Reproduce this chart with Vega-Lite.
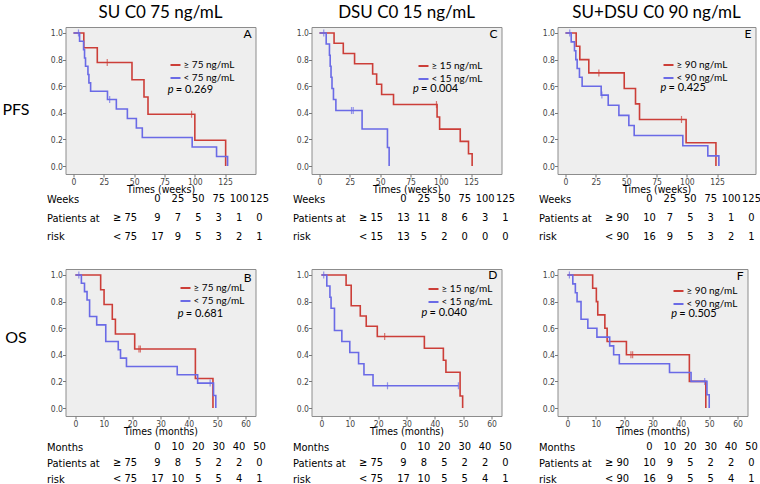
{
"$schema":"https://vega.github.io/schema/vega-lite/v6.json",
"background":"white",
"padding":{"left":0.5,"top":3,"right":0,"bottom":2},
"autosize":{"type":"pad"},
"bounds":"flush",
"align":"each",
"columns":3,
"spacing":{"row":10,"column":52},
"resolve":{"legend":{"color":"independent"}},
"config":{
 "view":{"fill":"#eeeeee","stroke":"#8c8c8c"},
 "title":{"font":"Lato","fontSize":17,"fontWeight":"normal","color":"#000","offset":5.5},
 "axis":{"tickSize":3,"tickCount":20,"tickColor":"#777","domain":false,"grid":false,"labelOverlap":false,"labelFont":"'Liberation Sans Narrow', 'DejaVu Sans Condensed', sans-serif","labelFontSize":8.5,"labelColor":"#444","labelPadding":0,"titleFont":"'Liberation Sans Narrow', 'DejaVu Sans Condensed', sans-serif","titleFontSize":10.5,"titleFontWeight":"normal","titleColor":"#000","titlePadding":-1.5},
 "legend":{"orient":"none","symbolType":"stroke","symbolSize":100,"symbolStrokeWidth":2,"labelFont":"Lato","labelFontSize":10,"labelOffset":2,"rowPadding":2,"padding":0,"labelColor":"#000"}
},
"datasets":{
 "km":[
  {"p":"A","g":"hi","t":0,"s":1},{"p":"A","g":"hi","t":8.5,"s":0.889},{"p":"A","g":"hi","t":19.6,"s":0.778},{"p":"A","g":"hi","t":48.2,"s":0.648},{"p":"A","g":"hi","t":58.1,"s":0.519},{"p":"A","g":"hi","t":61.4,"s":0.389},{"p":"A","g":"hi","t":100,"s":0.194},{"p":"A","g":"hi","t":125.4,"s":0},
  {"p":"A","g":"lo","t":0,"s":1},{"p":"A","g":"lo","t":5,"s":0.9375},{"p":"A","g":"lo","t":8.3,"s":0.875},{"p":"A","g":"lo","t":9.1,"s":0.8125},{"p":"A","g":"lo","t":9.9,"s":0.75},{"p":"A","g":"lo","t":11.9,"s":0.6875},{"p":"A","g":"lo","t":12.7,"s":0.625},{"p":"A","g":"lo","t":14.1,"s":0.5625},{"p":"A","g":"lo","t":28,"s":0.5},{"p":"A","g":"lo","t":35.3,"s":0.4286},{"p":"A","g":"lo","t":44.4,"s":0.3571},{"p":"A","g":"lo","t":51.8,"s":0.2857},{"p":"A","g":"lo","t":56.7,"s":0.2143},{"p":"A","g":"lo","t":97.8,"s":0.1429},{"p":"A","g":"lo","t":117.9,"s":0.0714},{"p":"A","g":"lo","t":127,"s":0},
  {"p":"C","g":"hi","t":0,"s":1},{"p":"C","g":"hi","t":12,"s":0.923},{"p":"C","g":"hi","t":19.6,"s":0.846},{"p":"C","g":"hi","t":28.9,"s":0.769},{"p":"C","g":"hi","t":43.8,"s":0.692},{"p":"C","g":"hi","t":47.1,"s":0.615},{"p":"C","g":"hi","t":51.2,"s":0.538},{"p":"C","g":"hi","t":61,"s":0.462},{"p":"C","g":"hi","t":96.9,"s":0.369},{"p":"C","g":"hi","t":99,"s":0.277},{"p":"C","g":"hi","t":116,"s":0.185},{"p":"C","g":"hi","t":122.8,"s":0.092},{"p":"C","g":"hi","t":125.8,"s":0},
  {"p":"C","g":"lo","t":0,"s":1},{"p":"C","g":"lo","t":5.5,"s":0.917},{"p":"C","g":"lo","t":8.2,"s":0.833},{"p":"C","g":"lo","t":8.8,"s":0.75},{"p":"C","g":"lo","t":9.5,"s":0.667},{"p":"C","g":"lo","t":10.3,"s":0.583},{"p":"C","g":"lo","t":11.5,"s":0.5},{"p":"C","g":"lo","t":13.5,"s":0.417},{"p":"C","g":"lo","t":35.1,"s":0.278},{"p":"C","g":"lo","t":56,"s":0.139},{"p":"C","g":"lo","t":57.4,"s":0},
  {"p":"E","g":"hi","t":0,"s":1},{"p":"E","g":"hi","t":8.8,"s":0.9},{"p":"E","g":"hi","t":11.8,"s":0.8},{"p":"E","g":"hi","t":19.2,"s":0.7},{"p":"E","g":"hi","t":48.4,"s":0.583},{"p":"E","g":"hi","t":57.7,"s":0.467},{"p":"E","g":"hi","t":61,"s":0.35},{"p":"E","g":"hi","t":99.4,"s":0.175},{"p":"E","g":"hi","t":124,"s":0},
  {"p":"E","g":"lo","t":0,"s":1},{"p":"E","g":"lo","t":4.7,"s":0.933},{"p":"E","g":"lo","t":7.4,"s":0.867},{"p":"E","g":"lo","t":8.5,"s":0.8},{"p":"E","g":"lo","t":9.6,"s":0.733},{"p":"E","g":"lo","t":11.5,"s":0.667},{"p":"E","g":"lo","t":13.7,"s":0.6},{"p":"E","g":"lo","t":29.4,"s":0.533},{"p":"E","g":"lo","t":35.2,"s":0.457},{"p":"E","g":"lo","t":44,"s":0.381},{"p":"E","g":"lo","t":52.2,"s":0.305},{"p":"E","g":"lo","t":56.6,"s":0.229},{"p":"E","g":"lo","t":96.7,"s":0.152},{"p":"E","g":"lo","t":117.3,"s":0.076},{"p":"E","g":"lo","t":126.4,"s":0},
  {"p":"B","g":"hi","t":0,"s":1},{"p":"B","g":"hi","t":8.9,"s":0.889},{"p":"B","g":"hi","t":10.1,"s":0.778},{"p":"B","g":"hi","t":13,"s":0.667},{"p":"B","g":"hi","t":14.1,"s":0.556},{"p":"B","g":"hi","t":20.9,"s":0.444},{"p":"B","g":"hi","t":42.3,"s":0.222},{"p":"B","g":"hi","t":48.5,"s":0},
  {"p":"B","g":"lo","t":0,"s":1},{"p":"B","g":"lo","t":2.1,"s":0.9375},{"p":"B","g":"lo","t":3.2,"s":0.875},{"p":"B","g":"lo","t":4.1,"s":0.8125},{"p":"B","g":"lo","t":5,"s":0.6875},{"p":"B","g":"lo","t":7.5,"s":0.625},{"p":"B","g":"lo","t":10.7,"s":0.5},{"p":"B","g":"lo","t":15.1,"s":0.4375},{"p":"B","g":"lo","t":15.9,"s":0.375},{"p":"B","g":"lo","t":18,"s":0.3125},{"p":"B","g":"lo","t":35.9,"s":0.25},{"p":"B","g":"lo","t":43.1,"s":0.1875},{"p":"B","g":"lo","t":48.7,"s":0.0938},{"p":"B","g":"lo","t":49.5,"s":0},
  {"p":"D","g":"hi","t":0,"s":1},{"p":"D","g":"hi","t":8.7,"s":0.923},{"p":"D","g":"hi","t":10.5,"s":0.769},{"p":"D","g":"hi","t":13.7,"s":0.692},{"p":"D","g":"hi","t":15.8,"s":0.615},{"p":"D","g":"hi","t":19.7,"s":0.538},{"p":"D","g":"hi","t":36.3,"s":0.449},{"p":"D","g":"hi","t":43,"s":0.359},{"p":"D","g":"hi","t":43.9,"s":0.269},{"p":"D","g":"hi","t":48.9,"s":0.09},{"p":"D","g":"hi","t":49.8,"s":0},
  {"p":"D","g":"lo","t":0,"s":1},{"p":"D","g":"lo","t":1.9,"s":0.917},{"p":"D","g":"lo","t":3,"s":0.833},{"p":"D","g":"lo","t":3.4,"s":0.75},{"p":"D","g":"lo","t":4.6,"s":0.583},{"p":"D","g":"lo","t":7.2,"s":0.5},{"p":"D","g":"lo","t":10,"s":0.417},{"p":"D","g":"lo","t":13.1,"s":0.333},{"p":"D","g":"lo","t":15,"s":0.25},{"p":"D","g":"lo","t":18.2,"s":0.167},{"p":"D","g":"lo","t":48.3,"s":0.167},
  {"p":"F","g":"hi","t":0,"s":1},{"p":"F","g":"hi","t":8.9,"s":0.9},{"p":"F","g":"hi","t":10.2,"s":0.8},{"p":"F","g":"hi","t":10.7,"s":0.7},{"p":"F","g":"hi","t":13.2,"s":0.6},{"p":"F","g":"hi","t":14,"s":0.5},{"p":"F","g":"hi","t":20.8,"s":0.4},{"p":"F","g":"hi","t":43,"s":0.2},{"p":"F","g":"hi","t":48.8,"s":0},
  {"p":"F","g":"lo","t":0,"s":1},{"p":"F","g":"lo","t":1.9,"s":0.933},{"p":"F","g":"lo","t":2.8,"s":0.867},{"p":"F","g":"lo","t":3.4,"s":0.8},{"p":"F","g":"lo","t":4.8,"s":0.667},{"p":"F","g":"lo","t":7.2,"s":0.6},{"p":"F","g":"lo","t":10.4,"s":0.533},{"p":"F","g":"lo","t":14.9,"s":0.467},{"p":"F","g":"lo","t":16.3,"s":0.4},{"p":"F","g":"lo","t":18.3,"s":0.333},{"p":"F","g":"lo","t":36,"s":0.267},{"p":"F","g":"lo","t":43.6,"s":0.2},{"p":"F","g":"lo","t":49.2,"s":0.1},{"p":"F","g":"lo","t":50,"s":0}
 ],
 "cens":[
  {"p":"A","g":"hi","t":27.8,"s":0.778},{"p":"A","g":"hi","t":97.3,"s":0.389},{"p":"A","g":"lo","t":4.1,"s":1},{"p":"A","g":"lo","t":29.8,"s":0.5},
  {"p":"C","g":"hi","t":96.4,"s":0.462},{"p":"C","g":"lo","t":3.5,"s":1},{"p":"C","g":"lo","t":26.4,"s":0.417},{"p":"C","g":"lo","t":27.8,"s":0.417},
  {"p":"E","g":"hi","t":27.5,"s":0.7},{"p":"E","g":"hi","t":95.6,"s":0.35},{"p":"E","g":"lo","t":3.5,"s":1},{"p":"E","g":"lo","t":30,"s":0.533},
  {"p":"B","g":"hi","t":22.4,"s":0.444},{"p":"B","g":"hi","t":22.9,"s":0.444},{"p":"B","g":"lo","t":1.2,"s":1},{"p":"B","g":"lo","t":47.5,"s":0.1875},
  {"p":"D","g":"hi","t":22.3,"s":0.538},{"p":"D","g":"lo","t":0.8,"s":1},{"p":"D","g":"lo","t":23.3,"s":0.167},{"p":"D","g":"lo","t":48.3,"s":0.167},
  {"p":"F","g":"hi","t":22.4,"s":0.4},{"p":"F","g":"hi","t":23,"s":0.4},{"p":"F","g":"lo","t":0.7,"s":1},{"p":"F","g":"lo","t":48.4,"s":0.2}
 ],
 "info":[
  {"p":"A","pv":"= 0.269","L":"A"},{"p":"C","pv":"= 0.004","L":"C"},{"p":"E","pv":"= 0.425","L":"E"},
  {"p":"B","pv":"= 0.681","L":"B"},{"p":"D","pv":"= 0.040","L":"D"},{"p":"F","pv":"= 0.505","L":"F"}
 ],
 "risk":[
  {"p":"A","r":"Weeks","c":"0","v":"0"},{"p":"A","r":"Weeks","c":"1","v":"25"},{"p":"A","r":"Weeks","c":"2","v":"50"},{"p":"A","r":"Weeks","c":"3","v":"75"},{"p":"A","r":"Weeks","c":"4","v":"100"},{"p":"A","r":"Weeks","c":"5","v":"125"},
  {"p":"A","r":"Patients at","c":"g","v":"≥ 75"},{"p":"A","r":"Patients at","c":"0","v":"9"},{"p":"A","r":"Patients at","c":"1","v":"7"},{"p":"A","r":"Patients at","c":"2","v":"5"},{"p":"A","r":"Patients at","c":"3","v":"3"},{"p":"A","r":"Patients at","c":"4","v":"1"},{"p":"A","r":"Patients at","c":"5","v":"0"},
  {"p":"A","r":"risk","c":"g","v":"< 75"},{"p":"A","r":"risk","c":"0","v":"17"},{"p":"A","r":"risk","c":"1","v":"9"},{"p":"A","r":"risk","c":"2","v":"5"},{"p":"A","r":"risk","c":"3","v":"3"},{"p":"A","r":"risk","c":"4","v":"2"},{"p":"A","r":"risk","c":"5","v":"1"},
  {"p":"C","r":"Weeks","c":"0","v":"0"},{"p":"C","r":"Weeks","c":"1","v":"25"},{"p":"C","r":"Weeks","c":"2","v":"50"},{"p":"C","r":"Weeks","c":"3","v":"75"},{"p":"C","r":"Weeks","c":"4","v":"100"},{"p":"C","r":"Weeks","c":"5","v":"125"},
  {"p":"C","r":"Patients at","c":"g","v":"≥ 15"},{"p":"C","r":"Patients at","c":"0","v":"13"},{"p":"C","r":"Patients at","c":"1","v":"11"},{"p":"C","r":"Patients at","c":"2","v":"8"},{"p":"C","r":"Patients at","c":"3","v":"6"},{"p":"C","r":"Patients at","c":"4","v":"3"},{"p":"C","r":"Patients at","c":"5","v":"1"},
  {"p":"C","r":"risk","c":"g","v":"< 15"},{"p":"C","r":"risk","c":"0","v":"13"},{"p":"C","r":"risk","c":"1","v":"5"},{"p":"C","r":"risk","c":"2","v":"2"},{"p":"C","r":"risk","c":"3","v":"0"},{"p":"C","r":"risk","c":"4","v":"0"},{"p":"C","r":"risk","c":"5","v":"0"},
  {"p":"E","r":"Weeks","c":"0","v":"0"},{"p":"E","r":"Weeks","c":"1","v":"25"},{"p":"E","r":"Weeks","c":"2","v":"50"},{"p":"E","r":"Weeks","c":"3","v":"75"},{"p":"E","r":"Weeks","c":"4","v":"100"},{"p":"E","r":"Weeks","c":"5","v":"125"},
  {"p":"E","r":"Patients at","c":"g","v":"≥ 90"},{"p":"E","r":"Patients at","c":"0","v":"10"},{"p":"E","r":"Patients at","c":"1","v":"7"},{"p":"E","r":"Patients at","c":"2","v":"5"},{"p":"E","r":"Patients at","c":"3","v":"3"},{"p":"E","r":"Patients at","c":"4","v":"1"},{"p":"E","r":"Patients at","c":"5","v":"0"},
  {"p":"E","r":"risk","c":"g","v":"< 90"},{"p":"E","r":"risk","c":"0","v":"16"},{"p":"E","r":"risk","c":"1","v":"9"},{"p":"E","r":"risk","c":"2","v":"5"},{"p":"E","r":"risk","c":"3","v":"3"},{"p":"E","r":"risk","c":"4","v":"2"},{"p":"E","r":"risk","c":"5","v":"1"},
  {"p":"B","r":"Months","c":"0","v":"0"},{"p":"B","r":"Months","c":"1","v":"10"},{"p":"B","r":"Months","c":"2","v":"20"},{"p":"B","r":"Months","c":"3","v":"30"},{"p":"B","r":"Months","c":"4","v":"40"},{"p":"B","r":"Months","c":"5","v":"50"},
  {"p":"B","r":"Patients at","c":"g","v":"≥ 75"},{"p":"B","r":"Patients at","c":"0","v":"9"},{"p":"B","r":"Patients at","c":"1","v":"8"},{"p":"B","r":"Patients at","c":"2","v":"5"},{"p":"B","r":"Patients at","c":"3","v":"2"},{"p":"B","r":"Patients at","c":"4","v":"2"},{"p":"B","r":"Patients at","c":"5","v":"0"},
  {"p":"B","r":"risk","c":"g","v":"< 75"},{"p":"B","r":"risk","c":"0","v":"17"},{"p":"B","r":"risk","c":"1","v":"10"},{"p":"B","r":"risk","c":"2","v":"5"},{"p":"B","r":"risk","c":"3","v":"5"},{"p":"B","r":"risk","c":"4","v":"4"},{"p":"B","r":"risk","c":"5","v":"1"},
  {"p":"D","r":"Months","c":"0","v":"0"},{"p":"D","r":"Months","c":"1","v":"10"},{"p":"D","r":"Months","c":"2","v":"20"},{"p":"D","r":"Months","c":"3","v":"30"},{"p":"D","r":"Months","c":"4","v":"40"},{"p":"D","r":"Months","c":"5","v":"50"},
  {"p":"D","r":"Patients at","c":"g","v":"≥ 75"},{"p":"D","r":"Patients at","c":"0","v":"9"},{"p":"D","r":"Patients at","c":"1","v":"8"},{"p":"D","r":"Patients at","c":"2","v":"5"},{"p":"D","r":"Patients at","c":"3","v":"2"},{"p":"D","r":"Patients at","c":"4","v":"2"},{"p":"D","r":"Patients at","c":"5","v":"0"},
  {"p":"D","r":"risk","c":"g","v":"< 75"},{"p":"D","r":"risk","c":"0","v":"17"},{"p":"D","r":"risk","c":"1","v":"10"},{"p":"D","r":"risk","c":"2","v":"5"},{"p":"D","r":"risk","c":"3","v":"5"},{"p":"D","r":"risk","c":"4","v":"4"},{"p":"D","r":"risk","c":"5","v":"1"},
  {"p":"F","r":"Months","c":"0","v":"0"},{"p":"F","r":"Months","c":"1","v":"10"},{"p":"F","r":"Months","c":"2","v":"20"},{"p":"F","r":"Months","c":"3","v":"30"},{"p":"F","r":"Months","c":"4","v":"40"},{"p":"F","r":"Months","c":"5","v":"50"},
  {"p":"F","r":"Patients at","c":"g","v":"≥ 90"},{"p":"F","r":"Patients at","c":"0","v":"10"},{"p":"F","r":"Patients at","c":"1","v":"9"},{"p":"F","r":"Patients at","c":"2","v":"5"},{"p":"F","r":"Patients at","c":"3","v":"2"},{"p":"F","r":"Patients at","c":"4","v":"2"},{"p":"F","r":"Patients at","c":"5","v":"0"},
  {"p":"F","r":"risk","c":"g","v":"< 90"},{"p":"F","r":"risk","c":"0","v":"16"},{"p":"F","r":"risk","c":"1","v":"9"},{"p":"F","r":"risk","c":"2","v":"5"},{"p":"F","r":"risk","c":"3","v":"5"},{"p":"F","r":"risk","c":"4","v":"4"},{"p":"F","r":"risk","c":"5","v":"1"}
 ]
},
"concat":[
   {"width":190,"height":147,"title":{"text":"SU C0 75 ng/mL"},"layer":[
    {"data":{"name":"km"},"transform":[{"filter":"datum.p=='A'"}],"mark":{"type":"line","interpolate":"step-after","strokeWidth":1.6},
     "encoding":{"x":{"field":"t","type":"quantitative","scale":{"domain":[-6.6,150],"nice":false,"zero":false},"axis":{"values":[0,25,50,75,100,125],"tickCount":20,"labelOverlap":false,"title":"Times (weeks)"}},
      "y":{"field":"s","type":"quantitative","scale":{"domain":[-0.06,1.045],"nice":false,"zero":false},"axis":{"values":[0,0.2,0.4,0.6,0.8,1],"tickCount":20,"labelOverlap":false,"format":".1f","title":"PFS","titleAngle":0,"titleX":-50,"titleY":82,"titleAlign":"center","titleBaseline":"middle","titleFont":"Lato","titleFontSize":16}},
      "color":{"field":"g","type":"nominal","scale":{"domain":["hi","lo"],"range":["#cc3e38","#6a6ae6"]},"legend":{"title":null,"legendX":104,"legendY":32,"labelExpr":"datum.value=='hi'?'≥ 75 ng/mL':'< 75 ng/mL'"}}}},
    {"data":{"name":"cens"},"transform":[{"filter":"datum.p=='A'"}],"mark":{"type":"tick","orient":"vertical","size":7,"thickness":1.2},
     "encoding":{"x":{"field":"t","type":"quantitative"},"y":{"field":"s","type":"quantitative"},"color":{"field":"g","type":"nominal","legend":null}}},
    {"data":{"name":"info"},"transform":[{"filter":"datum.p=='A'"}],"mark":{"type":"text","text":"p","font":"Lato","fontSize":11,"fontStyle":"italic","align":"left","baseline":"middle"},
     "encoding":{"x":{"datum":77.7},"y":{"datum":0.574}}},
    {"data":{"name":"info"},"transform":[{"filter":"datum.p=='A'"}],"mark":{"type":"text","font":"Lato","fontSize":11,"align":"left","baseline":"middle","dx":8},
     "encoding":{"x":{"datum":77.7},"y":{"datum":0.574},"text":{"field":"pv","type":"nominal"}}},
    {"data":{"name":"info"},"transform":[{"filter":"datum.p=='A'"}],"mark":{"type":"text","font":"Lato","fontSize":12,"align":"right","baseline":"middle","dx":-4},
     "encoding":{"x":{"datum":150},"y":{"datum":0.99},"text":{"field":"L","type":"nominal"}}}
   ]},
   {"width":190,"height":147,"title":{"text":"DSU C0 15 ng/mL"},"layer":[
    {"data":{"name":"km"},"transform":[{"filter":"datum.p=='C'"}],"mark":{"type":"line","interpolate":"step-after","strokeWidth":1.6},
     "encoding":{"x":{"field":"t","type":"quantitative","scale":{"domain":[-6.6,150],"nice":false,"zero":false},"axis":{"values":[0,25,50,75,100,125],"tickCount":20,"labelOverlap":false,"title":"Times (weeks)"}},
      "y":{"field":"s","type":"quantitative","scale":{"domain":[-0.06,1.045],"nice":false,"zero":false},"axis":{"values":[0,0.2,0.4,0.6,0.8,1],"tickCount":20,"labelOverlap":false,"format":".1f","title":null}},
      "color":{"field":"g","type":"nominal","scale":{"domain":["hi","lo"],"range":["#cc3e38","#6a6ae6"]},"legend":{"title":null,"legendX":106,"legendY":33,"labelExpr":"datum.value=='hi'?'≥ 15 ng/mL':'< 15 ng/mL'"}}}},
    {"data":{"name":"cens"},"transform":[{"filter":"datum.p=='C'"}],"mark":{"type":"tick","orient":"vertical","size":7,"thickness":1.2},
     "encoding":{"x":{"field":"t","type":"quantitative"},"y":{"field":"s","type":"quantitative"},"color":{"field":"g","type":"nominal","legend":null}}},
    {"data":{"name":"info"},"transform":[{"filter":"datum.p=='C'"}],"mark":{"type":"text","text":"p","font":"Lato","fontSize":11,"fontStyle":"italic","align":"left","baseline":"middle"},
     "encoding":{"x":{"datum":77},"y":{"datum":0.577}}},
    {"data":{"name":"info"},"transform":[{"filter":"datum.p=='C'"}],"mark":{"type":"text","font":"Lato","fontSize":11,"align":"left","baseline":"middle","dx":8},
     "encoding":{"x":{"datum":77},"y":{"datum":0.577},"text":{"field":"pv","type":"nominal"}}},
    {"data":{"name":"info"},"transform":[{"filter":"datum.p=='C'"}],"mark":{"type":"text","font":"Lato","fontSize":12,"align":"right","baseline":"middle","dx":-4},
     "encoding":{"x":{"datum":150},"y":{"datum":0.99},"text":{"field":"L","type":"nominal"}}}
   ]},
   {"width":198,"height":147,"title":{"text":"SU+DSU C0 90 ng/mL"},"layer":[
    {"data":{"name":"km"},"transform":[{"filter":"datum.p=='E'"}],"mark":{"type":"line","interpolate":"step-after","strokeWidth":1.6},
     "encoding":{"x":{"field":"t","type":"quantitative","scale":{"domain":[-6.6,156.6],"nice":false,"zero":false},"axis":{"values":[0,25,50,75,100,125],"tickCount":20,"labelOverlap":false,"title":"Times (weeks)"}},
      "y":{"field":"s","type":"quantitative","scale":{"domain":[-0.06,1.045],"nice":false,"zero":false},"axis":{"values":[0,0.2,0.4,0.6,0.8,1],"tickCount":20,"labelOverlap":false,"format":".1f","title":null}},
      "color":{"field":"g","type":"nominal","scale":{"domain":["hi","lo"],"range":["#cc3e38","#6a6ae6"]},"legend":{"title":null,"legendX":105,"legendY":32,"labelExpr":"datum.value=='hi'?'≥ 90 ng/mL':'< 90 ng/mL'"}}}},
    {"data":{"name":"cens"},"transform":[{"filter":"datum.p=='E'"}],"mark":{"type":"tick","orient":"vertical","size":7,"thickness":1.2},
     "encoding":{"x":{"field":"t","type":"quantitative"},"y":{"field":"s","type":"quantitative"},"color":{"field":"g","type":"nominal","legend":null}}},
    {"data":{"name":"info"},"transform":[{"filter":"datum.p=='E'"}],"mark":{"type":"text","text":"p","font":"Lato","fontSize":11,"fontStyle":"italic","align":"left","baseline":"middle"},
     "encoding":{"x":{"datum":78.3},"y":{"datum":0.586}}},
    {"data":{"name":"info"},"transform":[{"filter":"datum.p=='E'"}],"mark":{"type":"text","font":"Lato","fontSize":11,"align":"left","baseline":"middle","dx":8},
     "encoding":{"x":{"datum":78.3},"y":{"datum":0.586},"text":{"field":"pv","type":"nominal"}}},
    {"data":{"name":"info"},"transform":[{"filter":"datum.p=='E'"}],"mark":{"type":"text","font":"Lato","fontSize":12,"align":"right","baseline":"middle","dx":-4},
     "encoding":{"x":{"datum":156.6},"y":{"datum":0.99},"text":{"field":"L","type":"nominal"}}}
   ]},
   {"width":194,"height":74.5,"view":{"fill":null,"stroke":null},"data":{"name":"risk"},"transform":[{"filter":"datum.p=='A'"}],
    "encoding":{"x":{"field":"c","type":"nominal","scale":{"type":"point","domain":["x1","x2","g","0","1","2","3","4","5"],"padding":0.755,"align":1},"axis":null},
     "y":{"field":"r","type":"nominal","scale":{"type":"point","domain":["Weeks","Patients at","risk"],"padding":1,"align":0.413},"axis":{"title":null,"labelAlign":"left","labelPadding":19,"ticks":false,"tickSize":0,"labelFontSize":11,"labelColor":"#000","labelBaseline":"middle"}},
     "text":{"field":"v","type":"nominal"}},
    "layer":[
     {"transform":[{"filter":"datum.c!='g'"}],"mark":{"type":"text","font":"'Liberation Sans Narrow', 'DejaVu Sans Condensed', sans-serif","fontSize":11,"align":"center","baseline":"middle"}},
     {"transform":[{"filter":"datum.c=='g'"}],"mark":{"type":"text","font":"'Liberation Sans Narrow', 'DejaVu Sans Condensed', sans-serif","fontSize":11,"align":"center","baseline":"middle","dx":-12}}
    ]},
   {"width":194,"height":74.5,"view":{"fill":null,"stroke":null},"data":{"name":"risk"},"transform":[{"filter":"datum.p=='C'"}],
    "encoding":{"x":{"field":"c","type":"nominal","scale":{"type":"point","domain":["x1","x2","g","0","1","2","3","4","5"],"padding":0.755,"align":1},"axis":null},
     "y":{"field":"r","type":"nominal","scale":{"type":"point","domain":["Weeks","Patients at","risk"],"padding":1,"align":0.413},"axis":{"title":null,"labelAlign":"left","labelPadding":19,"ticks":false,"tickSize":0,"labelFontSize":11,"labelColor":"#000","labelBaseline":"middle"}},
     "text":{"field":"v","type":"nominal"}},
    "layer":[
     {"transform":[{"filter":"datum.c!='g'"}],"mark":{"type":"text","font":"'Liberation Sans Narrow', 'DejaVu Sans Condensed', sans-serif","fontSize":11,"align":"center","baseline":"middle"}},
     {"transform":[{"filter":"datum.c=='g'"}],"mark":{"type":"text","font":"'Liberation Sans Narrow', 'DejaVu Sans Condensed', sans-serif","fontSize":11,"align":"center","baseline":"middle","dx":-12}}
    ]},
   {"width":194,"height":74.5,"view":{"fill":null,"stroke":null},"data":{"name":"risk"},"transform":[{"filter":"datum.p=='E'"}],
    "encoding":{"x":{"field":"c","type":"nominal","scale":{"type":"point","domain":["x1","x2","g","0","1","2","3","4","5"],"padding":0.755,"align":1},"axis":null},
     "y":{"field":"r","type":"nominal","scale":{"type":"point","domain":["Weeks","Patients at","risk"],"padding":1,"align":0.413},"axis":{"title":null,"labelAlign":"left","labelPadding":19,"ticks":false,"tickSize":0,"labelFontSize":11,"labelColor":"#000","labelBaseline":"middle"}},
     "text":{"field":"v","type":"nominal"}},
    "layer":[
     {"transform":[{"filter":"datum.c!='g'"}],"mark":{"type":"text","font":"'Liberation Sans Narrow', 'DejaVu Sans Condensed', sans-serif","fontSize":11,"align":"center","baseline":"middle"}},
     {"transform":[{"filter":"datum.c=='g'"}],"mark":{"type":"text","font":"'Liberation Sans Narrow', 'DejaVu Sans Condensed', sans-serif","fontSize":11,"align":"center","baseline":"middle","dx":-12}}
    ]},
   {"width":190,"height":147,"layer":[
    {"data":{"name":"km"},"transform":[{"filter":"datum.p=='B'"}],"mark":{"type":"line","interpolate":"step-after","strokeWidth":1.6},
     "encoding":{"x":{"field":"t","type":"quantitative","scale":{"domain":[-3.5,63.5],"nice":false,"zero":false},"axis":{"values":[0,10,20,30,40,50,60],"tickCount":20,"labelOverlap":false,"title":"Times (months)"}},
      "y":{"field":"s","type":"quantitative","scale":{"domain":[-0.06,1.045],"nice":false,"zero":false},"axis":{"values":[0,0.2,0.4,0.6,0.8,1],"tickCount":20,"labelOverlap":false,"format":".1f","title":"OS","titleAngle":0,"titleX":-50,"titleY":68,"titleAlign":"center","titleBaseline":"middle","titleFont":"Lato","titleFontSize":16}},
      "color":{"field":"g","type":"nominal","scale":{"domain":["hi","lo"],"range":["#cc3e38","#6a6ae6"]},"legend":{"title":null,"legendX":114,"legendY":13,"labelExpr":"datum.value=='hi'?'≥ 75 ng/mL':'< 75 ng/mL'"}}}},
    {"data":{"name":"cens"},"transform":[{"filter":"datum.p=='B'"}],"mark":{"type":"tick","orient":"vertical","size":7,"thickness":1.2},
     "encoding":{"x":{"field":"t","type":"quantitative"},"y":{"field":"s","type":"quantitative"},"color":{"field":"g","type":"nominal","legend":null}}},
    {"data":{"name":"info"},"transform":[{"filter":"datum.p=='B'"}],"mark":{"type":"text","text":"p","font":"Lato","fontSize":11,"fontStyle":"italic","align":"left","baseline":"middle"},
     "encoding":{"x":{"datum":36.1},"y":{"datum":0.71}}},
    {"data":{"name":"info"},"transform":[{"filter":"datum.p=='B'"}],"mark":{"type":"text","font":"Lato","fontSize":11,"align":"left","baseline":"middle","dx":8},
     "encoding":{"x":{"datum":36.1},"y":{"datum":0.71},"text":{"field":"pv","type":"nominal"}}},
    {"data":{"name":"info"},"transform":[{"filter":"datum.p=='B'"}],"mark":{"type":"text","font":"Lato","fontSize":12,"align":"right","baseline":"middle","dx":-4},
     "encoding":{"x":{"datum":63.5},"y":{"datum":0.98},"text":{"field":"L","type":"nominal"}}}
   ]},
   {"width":190,"height":147,"layer":[
    {"data":{"name":"km"},"transform":[{"filter":"datum.p=='D'"}],"mark":{"type":"line","interpolate":"step-after","strokeWidth":1.6},
     "encoding":{"x":{"field":"t","type":"quantitative","scale":{"domain":[-3.5,63.5],"nice":false,"zero":false},"axis":{"values":[0,10,20,30,40,50,60],"tickCount":20,"labelOverlap":false,"title":"Times (months)"}},
      "y":{"field":"s","type":"quantitative","scale":{"domain":[-0.06,1.045],"nice":false,"zero":false},"axis":{"values":[0,0.2,0.4,0.6,0.8,1],"tickCount":20,"labelOverlap":false,"format":".1f","title":null}},
      "color":{"field":"g","type":"nominal","scale":{"domain":["hi","lo"],"range":["#cc3e38","#6a6ae6"]},"legend":{"title":null,"legendX":116,"legendY":14,"labelExpr":"datum.value=='hi'?'≥ 15 ng/mL':'< 15 ng/mL'"}}}},
    {"data":{"name":"cens"},"transform":[{"filter":"datum.p=='D'"}],"mark":{"type":"tick","orient":"vertical","size":7,"thickness":1.2},
     "encoding":{"x":{"field":"t","type":"quantitative"},"y":{"field":"s","type":"quantitative"},"color":{"field":"g","type":"nominal","legend":null}}},
    {"data":{"name":"info"},"transform":[{"filter":"datum.p=='D'"}],"mark":{"type":"text","text":"p","font":"Lato","fontSize":11,"fontStyle":"italic","align":"left","baseline":"middle"},
     "encoding":{"x":{"datum":35.3},"y":{"datum":0.711}}},
    {"data":{"name":"info"},"transform":[{"filter":"datum.p=='D'"}],"mark":{"type":"text","font":"Lato","fontSize":11,"align":"left","baseline":"middle","dx":8},
     "encoding":{"x":{"datum":35.3},"y":{"datum":0.711},"text":{"field":"pv","type":"nominal"}}},
    {"data":{"name":"info"},"transform":[{"filter":"datum.p=='D'"}],"mark":{"type":"text","font":"Lato","fontSize":12,"align":"right","baseline":"middle","dx":-4},
     "encoding":{"x":{"datum":63.5},"y":{"datum":1.0},"text":{"field":"L","type":"nominal"}}}
   ]},
   {"width":190,"height":147,"layer":[
    {"data":{"name":"km"},"transform":[{"filter":"datum.p=='F'"}],"mark":{"type":"line","interpolate":"step-after","strokeWidth":1.6},
     "encoding":{"x":{"field":"t","type":"quantitative","scale":{"domain":[-3.5,63.5],"nice":false,"zero":false},"axis":{"values":[0,10,20,30,40,50,60],"tickCount":20,"labelOverlap":false,"title":"Times (months)"}},
      "y":{"field":"s","type":"quantitative","scale":{"domain":[-0.06,1.045],"nice":false,"zero":false},"axis":{"values":[0,0.2,0.4,0.6,0.8,1],"tickCount":20,"labelOverlap":false,"format":".1f","title":null}},
      "color":{"field":"g","type":"nominal","scale":{"domain":["hi","lo"],"range":["#cc3e38","#6a6ae6"]},"legend":{"title":null,"legendX":115,"legendY":16,"labelExpr":"datum.value=='hi'?'≥ 90 ng/mL':'< 90 ng/mL'"}}}},
    {"data":{"name":"cens"},"transform":[{"filter":"datum.p=='F'"}],"mark":{"type":"tick","orient":"vertical","size":7,"thickness":1.2},
     "encoding":{"x":{"field":"t","type":"quantitative"},"y":{"field":"s","type":"quantitative"},"color":{"field":"g","type":"nominal","legend":null}}},
    {"data":{"name":"info"},"transform":[{"filter":"datum.p=='F'"}],"mark":{"type":"text","text":"p","font":"Lato","fontSize":11,"fontStyle":"italic","align":"left","baseline":"middle"},
     "encoding":{"x":{"datum":36.6},"y":{"datum":0.71}}},
    {"data":{"name":"info"},"transform":[{"filter":"datum.p=='F'"}],"mark":{"type":"text","font":"Lato","fontSize":11,"align":"left","baseline":"middle","dx":8},
     "encoding":{"x":{"datum":36.6},"y":{"datum":0.71},"text":{"field":"pv","type":"nominal"}}},
    {"data":{"name":"info"},"transform":[{"filter":"datum.p=='F'"}],"mark":{"type":"text","font":"Lato","fontSize":12,"align":"right","baseline":"middle","dx":-4},
     "encoding":{"x":{"datum":63.5},"y":{"datum":0.99},"text":{"field":"L","type":"nominal"}}}
   ]},
   {"width":194,"height":60,"view":{"fill":null,"stroke":null},"data":{"name":"risk"},"transform":[{"filter":"datum.p=='B'"}],
    "encoding":{"x":{"field":"c","type":"nominal","scale":{"type":"point","domain":["x1","x2","g","0","1","2","3","4","5"],"padding":0.755,"align":1},"axis":null},
     "y":{"field":"r","type":"nominal","scale":{"type":"point","domain":["Months","Patients at","risk"],"padding":0.875,"align":0.75},"axis":{"title":null,"labelAlign":"left","labelPadding":19,"ticks":false,"tickSize":0,"labelFontSize":11,"labelColor":"#000","labelBaseline":"middle"}},
     "text":{"field":"v","type":"nominal"}},
    "layer":[
     {"transform":[{"filter":"datum.c!='g'"}],"mark":{"type":"text","font":"'Liberation Sans Narrow', 'DejaVu Sans Condensed', sans-serif","fontSize":11,"align":"center","baseline":"middle"}},
     {"transform":[{"filter":"datum.c=='g'"}],"mark":{"type":"text","font":"'Liberation Sans Narrow', 'DejaVu Sans Condensed', sans-serif","fontSize":11,"align":"center","baseline":"middle","dx":-12}}
    ]},
   {"width":194,"height":60,"view":{"fill":null,"stroke":null},"data":{"name":"risk"},"transform":[{"filter":"datum.p=='D'"}],
    "encoding":{"x":{"field":"c","type":"nominal","scale":{"type":"point","domain":["x1","x2","g","0","1","2","3","4","5"],"padding":0.755,"align":1},"axis":null},
     "y":{"field":"r","type":"nominal","scale":{"type":"point","domain":["Months","Patients at","risk"],"padding":0.875,"align":0.75},"axis":{"title":null,"labelAlign":"left","labelPadding":19,"ticks":false,"tickSize":0,"labelFontSize":11,"labelColor":"#000","labelBaseline":"middle"}},
     "text":{"field":"v","type":"nominal"}},
    "layer":[
     {"transform":[{"filter":"datum.c!='g'"}],"mark":{"type":"text","font":"'Liberation Sans Narrow', 'DejaVu Sans Condensed', sans-serif","fontSize":11,"align":"center","baseline":"middle"}},
     {"transform":[{"filter":"datum.c=='g'"}],"mark":{"type":"text","font":"'Liberation Sans Narrow', 'DejaVu Sans Condensed', sans-serif","fontSize":11,"align":"center","baseline":"middle","dx":-12}}
    ]},
   {"width":194,"height":60,"view":{"fill":null,"stroke":null},"data":{"name":"risk"},"transform":[{"filter":"datum.p=='F'"}],
    "encoding":{"x":{"field":"c","type":"nominal","scale":{"type":"point","domain":["x1","x2","g","0","1","2","3","4","5"],"padding":0.755,"align":1},"axis":null},
     "y":{"field":"r","type":"nominal","scale":{"type":"point","domain":["Months","Patients at","risk"],"padding":0.875,"align":0.75},"axis":{"title":null,"labelAlign":"left","labelPadding":19,"ticks":false,"tickSize":0,"labelFontSize":11,"labelColor":"#000","labelBaseline":"middle"}},
     "text":{"field":"v","type":"nominal"}},
    "layer":[
     {"transform":[{"filter":"datum.c!='g'"}],"mark":{"type":"text","font":"'Liberation Sans Narrow', 'DejaVu Sans Condensed', sans-serif","fontSize":11,"align":"center","baseline":"middle"}},
     {"transform":[{"filter":"datum.c=='g'"}],"mark":{"type":"text","font":"'Liberation Sans Narrow', 'DejaVu Sans Condensed', sans-serif","fontSize":11,"align":"center","baseline":"middle","dx":-12}}
    ]}
]
}
